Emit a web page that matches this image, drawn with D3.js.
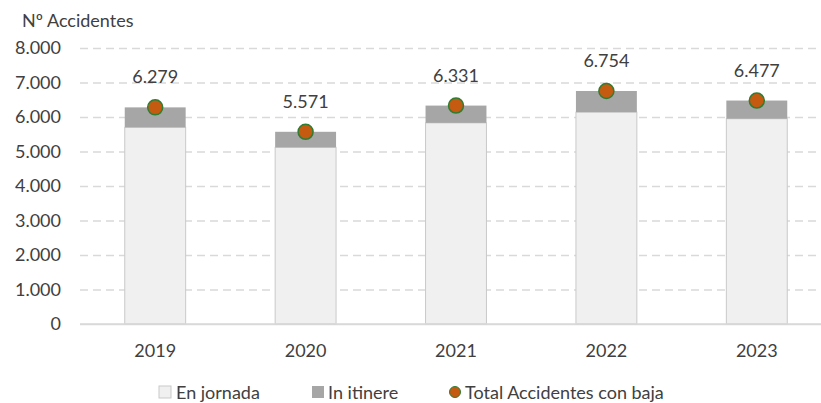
<!DOCTYPE html>
<html>
<head>
<meta charset="utf-8">
<script src="https://cdn.jsdelivr.net/npm/d3@7"></script>
<style>
  body { margin: 0; background: #fff; }
  text { font-family: Lato, "Open Sans", sans-serif; fill: #404040; }
</style>
</head>
<body>
<div id="chart"></div>
<script>
// data
let years = ["2019", "2020", "2021", "2022", "2023"];
let enJornada = [5700, 5120, 5830, 6140, 5950];
let inItinere = [579, 451, 501, 614, 527];
let totals = [6279, 5571, 6331, 6754, 6477];
let yTicks = [0, 1000, 2000, 3000, 4000, 5000, 6000, 7000, 8000];

const width = 821, height = 403;
const margins = {top: 48, right: -11, bottom: 79, left: 80};

// spanish number format: 6.279
const es = d3.formatLocale({decimal: ",", thousands: ".", grouping: [3], currency: ["", " €"]});
const fmt = es.format(",d");

const svg = d3.select("#chart").append("svg")
    .attr("width", width)
    .attr("height", height);

const x = d3.scaleBand()
    .domain(years)
    .range([margins.left, width - margins.right])
    .paddingInner(0.595)
    .paddingOuter(0.2975);

const y = d3.scaleLinear()
    .domain([0, 8000])
    .range([height - margins.bottom, margins.top]);

// gridlines + y labels
const yAxis = svg.append("g")
    .attr("transform", `translate(${margins.left},0)`)
    .call(d3.axisLeft(y).tickValues(yTicks).tickFormat(fmt)
        .tickSize(-(width - margins.left)).tickPadding(19));
yAxis.select(".domain").remove();
yAxis.selectAll("line")
    .attr("stroke", d => d === 0 ? "#d9d9d9" : "#d9d9d9")
    .attr("stroke-width", 1.5)
    .attr("stroke-dasharray", d => d === 0 ? null : "8,5");
yAxis.selectAll("text")
    .style("font-size", "18px")
    .attr("fill", "#404040");

// stacked bars
const rows = years.map((yr, i) => ({year: yr, jornada: enJornada[i], itinere: inItinere[i], total: totals[i]}));

svg.selectAll(".bar-jornada")
    .data(rows)
    .enter().append("rect")
    .attr("class", "bar-jornada")
    .attr("x", d => x(d.year))
    .attr("width", x.bandwidth())
    .attr("y", d => y(d.jornada))
    .attr("height", d => y(0) - y(d.jornada))
    .attr("fill", "#f0f0f0")
    .attr("stroke", "#c9c9c9")
    .attr("stroke-width", 1);

svg.selectAll(".bar-itinere")
    .data(rows)
    .enter().append("rect")
    .attr("class", "bar-itinere")
    .attr("x", d => x(d.year))
    .attr("width", x.bandwidth())
    .attr("y", d => y(d.jornada + d.itinere))
    .attr("height", d => y(d.jornada) - y(d.jornada + d.itinere))
    .attr("fill", "#a6a6a6");

// x axis line on top of bars
svg.append("line")
    .attr("x1", margins.left).attr("x2", width)
    .attr("y1", y(0)).attr("y2", y(0))
    .attr("stroke", "#d9d9d9")
    .attr("stroke-width", 1.5);

// total points
svg.selectAll(".dot")
    .data(rows)
    .enter().append("circle")
    .attr("class", "dot")
    .attr("cx", d => x(d.year) + x.bandwidth() / 2)
    .attr("cy", d => y(d.total))
    .attr("r", 7.5)
    .attr("fill", "#c55a11")
    .attr("stroke", "#2e7d32")
    .attr("stroke-width", 1.5);

// value labels
svg.selectAll(".val")
    .data(rows)
    .enter().append("text")
    .attr("class", "val")
    .attr("x", d => x(d.year) + x.bandwidth() / 2)
    .attr("y", d => y(d.total) - 24)
    .attr("text-anchor", "middle")
    .style("font-size", "18px")
    .text(d => fmt(d.total));

// x labels
svg.selectAll(".xlab")
    .data(years)
    .enter().append("text")
    .attr("class", "xlab")
    .attr("x", d => x(d) + x.bandwidth() / 2)
    .attr("y", 357)
    .attr("text-anchor", "middle")
    .style("font-size", "18px")
    .text(d => d);

// axis title
svg.append("text")
    .attr("x", 22)
    .attr("y", 27)
    .style("font-size", "18px")
    .text("Nº Accidentes");

// legend
const legend = svg.append("g").attr("transform", "translate(0,392)");
legend.append("rect")
    .attr("x", 159).attr("y", -6).attr("width", 12).attr("height", 12)
    .attr("fill", "#f0f0f0").attr("stroke", "#c9c9c9");
legend.append("text").attr("x", 176).attr("y", 6.5).style("font-size", "18px").text("En jornada");
legend.append("rect")
    .attr("x", 312).attr("y", -6).attr("width", 12).attr("height", 12)
    .attr("fill", "#a6a6a6");
legend.append("text").attr("x", 328).attr("y", 6.5).style("font-size", "18px").text("In itinere");
legend.append("circle")
    .attr("cx", 455).attr("cy", 0).attr("r", 5.5)
    .attr("fill", "#c55a11").attr("stroke", "#2e7d32").attr("stroke-width", 1);
legend.append("text").attr("x", 465).attr("y", 6.5).style("font-size", "18px").text("Total Accidentes con baja");
</script>
</body>
</html>
